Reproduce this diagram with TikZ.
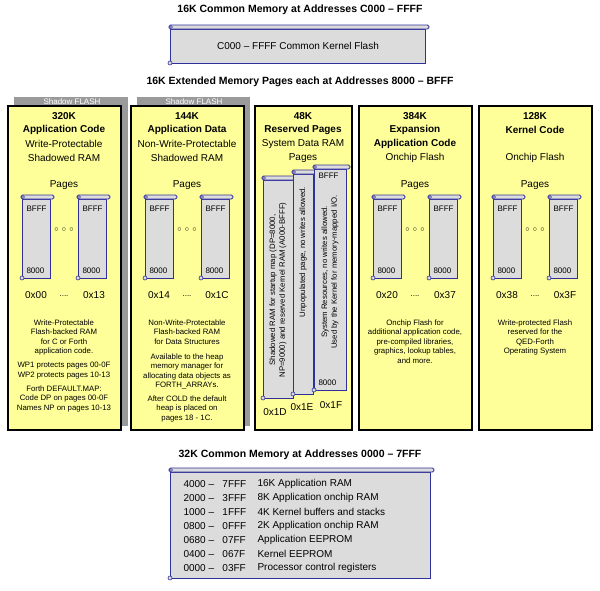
\documentclass[tikz,border=0pt]{standalone}
\usepackage{fontspec}
\setmainfont{Liberation Sans}
\definecolor{colyel}{HTML}{FFFF99}
\definecolor{scrgray}{HTML}{DCDCDC}
\definecolor{scrblue}{HTML}{30309A}
\definecolor{shad}{HTML}{9A9A9A}
\newcommand{\pgscroll}[4]{%
  \fill[scrgray] (#1,#2) rectangle (#3,#4);
  \draw[scrblue,line width=0.8pt] (#1,#2) rectangle (#3,#4);
  \draw[scrblue,fill=scrgray,line width=0.8pt,rounded corners=1.5pt] ({#1-1},{#2-4}) rectangle ({#3+4},{#2});
  \draw[scrblue,fill=scrgray,line width=0.6pt] ({#1+1},{#2-2}) circle (1.5);
  \draw[scrblue,fill=scrgray,line width=0.6pt] (#1,#4) circle (2);
}
\tikzset{
  ttl/.style={font=\fontsize{10.5}{12}\selectfont\bfseries},
  hd/.style={font=\fontsize{10}{11}\selectfont\bfseries},
  sub/.style={font=\fontsize{10}{11}\selectfont},
  sm/.style={font=\fontsize{8}{9}\selectfont},
  tiny/.style={font=\fontsize{7.8}{9.6}\selectfont,align=center},
  col/.style={fill=colyel,draw=black,line width=1.2pt},
}
\begin{document}
\begin{tikzpicture}[x=1pt,y=-1pt]
\useasboundingbox (0,0) rectangle (600,590);
\fill[white] (0,0) rectangle (600,590);
% top
\node[ttl] (t1) at (300,10) {16K Common Memory at Addresses C000 -- FFFF};
\pgscroll{170}{29}{425}{63}
\node[sub] (k1) at (298,46) {C000 -- FFFF Common Kernel Flash};
\node[ttl] (t2) at (300,82) {16K Extended Memory Pages each at Addresses 8000 -- BFFF};
% shadows
\fill[shad] (14,97) rectangle (128,426);
\fill[shad] (137,97) rectangle (250,426);
\node[sm,white] (s1) at (72,101.5) {Shadow FLASH};
\node[sm,white] (s2) at (194,101.5) {Shadow FLASH};
% columns
\draw[col] (8,106) rectangle (121,430);
\draw[col] (131,106) rectangle (244,430);
\draw[col] (255,106) rectangle (352,430);
\draw[col] (359,106) rectangle (472,430);
\draw[col] (479,106) rectangle (592,430);
% column 1
\node[hd] (a1) at (64,116) {320K};
\node[hd] (a2) at (64,130) {Application Code};
\node[sub] (a3) at (64,144) {Write-Protectable};
\node[sub] (a4) at (64,158) {Shadowed RAM};
\node[sub] (a5) at (64,185) {Pages};
% column 2
\node[hd] (b1) at (187,116) {144K};
\node[hd] (b2) at (187,130) {Application Data};
\node[sub] (b3) at (187,144) {Non-Write-Protectable};
\node[sub] (b4) at (187,158) {Shadowed RAM};
\node[sub] (b5) at (187,185) {Pages};
% column 3
\node[hd] (c1) at (303,116) {48K};
\node[hd] (c2) at (303,130) {Reserved Pages};
\node[sub] (c3) at (303,144) {System Data RAM};
\node[sub] (c4) at (303,158) {Pages};
% column 4
\node[hd] (d1) at (415,116) {384K};
\node[hd] (d2) at (415,130) {Expansion};
\node[hd] (d3) at (415,144) {Application Code};
\node[sub] (d4) at (415,158) {Onchip Flash};
\node[sub] (d5) at (415,185) {Pages};
% column 5
\node[hd] (e1) at (535,116) {128K};
\node[hd] (e2) at (535,130) {Kernel Code};
\node[sub] (e4) at (535,158) {Onchip Flash};
\node[sub] (e5) at (535,185) {Pages};
% page scrolls for columns 1,2,4,5
\foreach \cx/\lo/\hi/\nm in {64/0x00/0x13/p1,187/0x14/0x1C/p2,415/0x20/0x37/p4,535/0x38/0x3F/p5}{
  \pgscroll{\cx-42}{199}{\cx-14}{278}
  \pgscroll{\cx+14}{199}{\cx+42}{278}
  \node[sm,anchor=west] (\nm bl) at (\cx-41,209) {BFFF};
  \node[sm,anchor=west] (\nm br) at (\cx+15,209) {BFFF};
  \node[sm,anchor=west] (\nm el) at (\cx-41,271) {8000};
  \node[sm,anchor=west] (\nm er) at (\cx+15,271) {8000};
  \node[sm] (\nm d) at (\cx,230) {$\circ\,\circ\,\circ$};
  \node[sub] (\nm l) at (\cx-28,295) {\lo};
  \node[sm] (\nm m) at (\cx,296) {....};
  \node[sub] (\nm r) at (\cx+30,295) {\hi};
}
% column 3 scrolls
\pgscroll{263}{180}{293}{398}
\pgscroll{293}{174}{313}{394}
\pgscroll{314}{169}{346}{390}
\node[sm,anchor=west] (cb) at (315,176) {BFFF};
\node[sm,anchor=west] (ce) at (315,383) {8000};
\node[tiny,rotate=90] (r1) at (278,290) {Shadowed RAM for startup map (DP=8000,\\NP=9000) and reserved Kernel RAM (A000-BFFF)};
\node[tiny,rotate=90] (r2) at (303,252) {Unpopulated page, no writes allowed.};
\node[tiny,rotate=90] (r3) at (330,272) {System Resources, no writes allowed.\\Used by the Kernel for memory-mapped I/O.};
\node[sub] (x1) at (275,412) {0x1D};
\node[sub] (x2) at (302,407) {0x1E};
\node[sub] (x3) at (331,405) {0x1F};
% descriptions
\node[tiny,anchor=north] (a6) at (64,316) {Write-Protectable\\Flash-backed RAM\\for C or Forth\\application code.};
\node[tiny,anchor=north] (a7) at (64,359) {WP1 protects pages 00-0F\\WP2 protects pages 10-13};
\node[tiny,anchor=north] (a8) at (64,382) {Forth DEFAULT.MAP:\\Code DP on pages 00-0F\\Names NP on pages 10-13};
\node[tiny,anchor=north] (b6) at (187,316) {Non-Write-Protectable\\Flash-backed RAM\\for Data Structures};
\node[tiny,anchor=north] (b7) at (187,350) {Available to the heap\\memory manager for\\allocating data objects as\\FORTH\_ARRAYs.};
\node[tiny,anchor=north] (b8) at (187,392) {After COLD the default\\heap is placed on\\pages 18 - 1C.};
\node[tiny,anchor=north] (d6) at (415,316) {Onchip Flash for\\additional application code,\\pre-compiled libraries,\\graphics, lookup tables,\\and more.};
\node[tiny,anchor=north] (e6) at (535,316) {Write-protected Flash\\reserved for the\\QED-Forth\\Operating System};
% bottom
\node[ttl] (t3) at (300,455) {32K Common Memory at Addresses 0000 -- 7FFF};
\pgscroll{170}{472}{430}{578}
\foreach \y/\r/\d [count=\i] in {484/4000 -- \ \ 7FFF/16K Application RAM,498/2000 -- \ \ 3FFF/8K Application onchip RAM,512/1000 -- \ \ 1FFF/4K Kernel buffers and stacks,526/0800 -- \ \ 0FFF/2K Application onchip RAM,540/0680 -- \ \ 07FF/Application EEPROM,554/0400 -- \ \ 067F/Kernel EEPROM,568/0000 -- \ \ 03FF/Processor control registers}{
  \node[sub,anchor=west] (m\i) at (180,\y) {\r};
  \node[sub,anchor=west] (n\i) at (254,\y) {\d};
}
\end{tikzpicture}
\end{document}
